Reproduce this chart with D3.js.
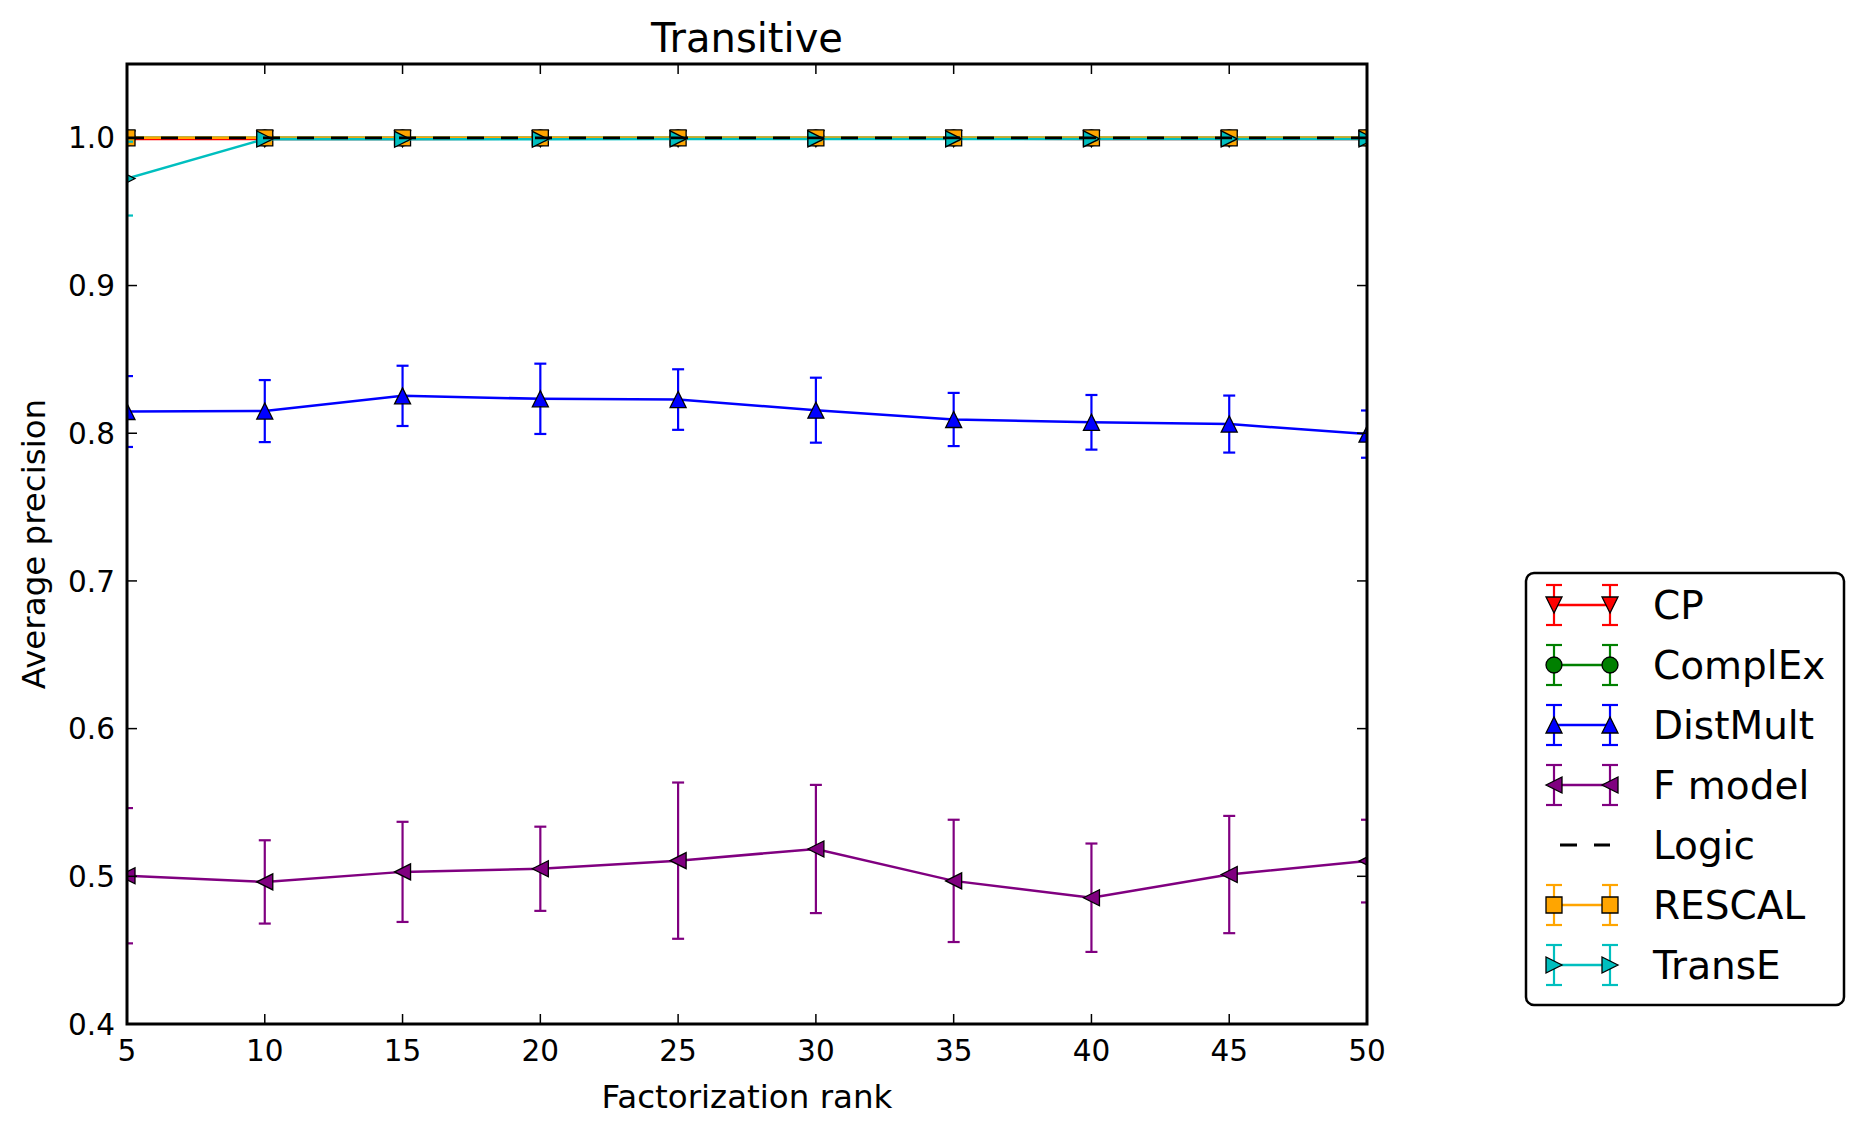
<!DOCTYPE html>
<html>
<head>
<meta charset="utf-8">
<script src="https://cdn.jsdelivr.net/npm/d3@7"></script>
<style>
  body { margin: 0; background: #fff; }
  text { font-family: 'DejaVu Sans', sans-serif; fill: #000; }
</style>
</head>
<body>
<div id="chart"></div>
<script>
let ranks = [5, 10, 15, 20, 25, 30, 35, 40, 45, 50]

let cpMean = [0.9993, 0.9993, 0.9993, 0.9994, 0.9994, 0.9994, 0.9994, 0.9993, 0.9993, 0.9993]
let cpStd = [0.001, 0.001, 0.001, 0.001, 0.001, 0.001, 0.001, 0.001, 0.001, 0.001]

let complexMean = [1.0, 1.0, 1.0, 1.0, 1.0, 1.0, 1.0, 1.0, 1.0, 1.0]
let complexStd = [0, 0, 0, 0, 0, 0, 0, 0, 0, 0]

let distMultMean = [0.8147, 0.815, 0.8253, 0.8233, 0.8228, 0.8156, 0.8093, 0.8074, 0.8062, 0.7994]
let distMultStd = [0.024, 0.021, 0.0204, 0.0238, 0.0205, 0.022, 0.018, 0.0185, 0.0193, 0.016]

let fModelMean = [0.5004, 0.4962, 0.503, 0.5051, 0.5106, 0.5185, 0.4969, 0.4855, 0.5012, 0.5103]
let fModelStd = [0.0458, 0.0282, 0.0339, 0.0285, 0.0529, 0.0434, 0.0414, 0.0367, 0.0397, 0.028]

let logicMean = [1.0, 1.0, 1.0, 1.0, 1.0, 1.0, 1.0, 1.0, 1.0, 1.0]

let rescalMean = [1.0, 1.0, 1.0, 1.0, 1.0, 1.0, 1.0, 1.0, 1.0, 1.0]
let rescalStd = [0.0005, 0.0005, 0.0005, 0.0005, 0.0005, 0.0005, 0.0005, 0.0005, 0.0005, 0.0005]

let transEMean = [0.9724, 0.9992, 0.999, 0.999, 0.9993, 0.9993, 0.9993, 0.9993, 0.9993, 0.9993]
let transEStd = [0.025, 0.001, 0.001, 0.001, 0.001, 0.001, 0.001, 0.001, 0.001, 0.001]

let xTicks = [5, 10, 15, 20, 25, 30, 35, 40, 45, 50]
let yTicks = [0.4, 0.5, 0.6, 0.7, 0.8, 0.9, 1.0]

let series = [
  { name: 'CP', mean: cpMean, std: cpStd, color: '#ff0000', marker: 'down' },
  { name: 'ComplEx', mean: complexMean, std: complexStd, color: '#008000', marker: 'circle' },
  { name: 'DistMult', mean: distMultMean, std: distMultStd, color: '#0000ff', marker: 'up' },
  { name: 'F model', mean: fModelMean, std: fModelStd, color: '#800080', marker: 'left' },
  { name: 'RESCAL', mean: rescalMean, std: rescalStd, color: '#ffa500', marker: 'square' },
  { name: 'TransE', mean: transEMean, std: transEStd, color: '#00bfbf', marker: 'right' }
]

let legendItems = ['CP', 'ComplEx', 'DistMult', 'F model', 'Logic', 'RESCAL', 'TransE']

let margin = { top: 64, left: 127, right: 496, bottom: 111 }
let totalWidth = 1863
let totalHeight = 1135
let width = totalWidth - margin.left - margin.right
let height = totalHeight - margin.top - margin.bottom

let markerSize = 16

function markerPath(type, s) {
  let h = s / 2
  if (type === 'up') return `M0,${-h}L${-h},${h}L${h},${h}Z`
  if (type === 'down') return `M0,${h}L${-h},${-h}L${h},${-h}Z`
  if (type === 'left') return `M${-h},0L${h},${-h}L${h},${h}Z`
  if (type === 'right') return `M${h},0L${-h},${-h}L${-h},${h}Z`
  if (type === 'square') return `M${-h},${-h}H${h}V${h}H${-h}Z`
  return d3.symbol().type(d3.symbolCircle).size(Math.PI * h * h)()
}

let svg = d3
  .select('#chart')
  .append('svg')
  .attr('width', totalWidth)
  .attr('height', totalHeight)

let holder = svg
  .append('g')
  .attr('transform', `translate(${margin.left},${margin.top})`)

let xScale = d3.scaleLinear().domain([5, 50]).range([0, width])
let yScale = d3.scaleLinear().domain([0.4, 1.05]).range([height, 0])

holder
  .append('clipPath')
  .attr('id', 'plot-clip')
  .append('rect')
  .attr('width', width)
  .attr('height', height)

let plot = holder.append('g').attr('clip-path', 'url(#plot-clip)')

let line = d3
  .line()
  .x(d => xScale(d.rank))
  .y(d => yScale(d.value))

series.forEach(s => {
  let points = ranks.map((r, i) => ({ rank: r, value: s.mean[i], std: s.std[i] }))
  let g = plot.append('g')

  let bars = g
    .selectAll('.err')
    .data(points)
    .enter()
    .append('g')
    .attr('stroke', s.color)
    .attr('stroke-width', 2.2)

  bars
    .append('line')
    .attr('x1', d => xScale(d.rank))
    .attr('x2', d => xScale(d.rank))
    .attr('y1', d => yScale(d.value - d.std))
    .attr('y2', d => yScale(d.value + d.std))

  bars
    .append('line')
    .attr('x1', d => xScale(d.rank) - 6)
    .attr('x2', d => xScale(d.rank) + 6)
    .attr('y1', d => yScale(d.value - d.std))
    .attr('y2', d => yScale(d.value - d.std))

  bars
    .append('line')
    .attr('x1', d => xScale(d.rank) - 6)
    .attr('x2', d => xScale(d.rank) + 6)
    .attr('y1', d => yScale(d.value + d.std))
    .attr('y2', d => yScale(d.value + d.std))

  g.append('path')
    .datum(points)
    .attr('d', line)
    .attr('fill', 'none')
    .attr('stroke', s.color)
    .attr('stroke-width', 2.5)

  g.selectAll('.marker')
    .data(points)
    .enter()
    .append('path')
    .attr('d', markerPath(s.marker, markerSize))
    .attr('transform', d => `translate(${xScale(d.rank)},${yScale(d.value)})`)
    .attr('fill', s.color)
    .attr('stroke', '#000')
    .attr('stroke-width', 1.3)
})

plot
  .append('path')
  .datum(ranks.map((r, i) => ({ rank: r, value: logicMean[i] })))
  .attr('d', line)
  .attr('fill', 'none')
  .attr('stroke', '#000')
  .attr('stroke-width', 2.8)
  .attr('stroke-dasharray', '17,17')

// ticks on all four sides, pointing in
let tickLen = 10

holder
  .selectAll('.x-tick')
  .data(xTicks)
  .enter()
  .append('g')
  .each(function(d) {
    let g = d3.select(this)
    g.append('line')
      .attr('x1', xScale(d)).attr('x2', xScale(d))
      .attr('y1', height).attr('y2', height - tickLen)
      .attr('stroke', '#000').attr('stroke-width', 1.5)
    g.append('line')
      .attr('x1', xScale(d)).attr('x2', xScale(d))
      .attr('y1', 0).attr('y2', tickLen)
      .attr('stroke', '#000').attr('stroke-width', 1.5)
    g.append('text')
      .attr('x', xScale(d))
      .attr('y', height + 37)
      .attr('text-anchor', 'middle')
      .attr('font-size', 29.5)
      .text(d)
  })

holder
  .selectAll('.y-tick')
  .data(yTicks)
  .enter()
  .append('g')
  .each(function(d) {
    let g = d3.select(this)
    g.append('line')
      .attr('x1', 0).attr('x2', tickLen)
      .attr('y1', yScale(d)).attr('y2', yScale(d))
      .attr('stroke', '#000').attr('stroke-width', 1.5)
    g.append('line')
      .attr('x1', width).attr('x2', width - tickLen)
      .attr('y1', yScale(d)).attr('y2', yScale(d))
      .attr('stroke', '#000').attr('stroke-width', 1.5)
    g.append('text')
      .attr('x', -12)
      .attr('y', yScale(d))
      .attr('dy', '0.36em')
      .attr('text-anchor', 'end')
      .attr('font-size', 29.5)
      .text(d3.format('.1f')(d))
  })

holder
  .append('rect')
  .attr('width', width)
  .attr('height', height)
  .attr('fill', 'none')
  .attr('stroke', '#000')
  .attr('stroke-width', 3)

holder
  .append('text')
  .attr('x', width / 2)
  .attr('y', -12)
  .attr('text-anchor', 'middle')
  .attr('font-size', 40)
  .text('Transitive')

holder
  .append('text')
  .attr('x', width / 2)
  .attr('y', height + 84)
  .attr('text-anchor', 'middle')
  .attr('font-size', 32.5)
  .text('Factorization rank')

holder
  .append('text')
  .attr('transform', `translate(${45 - margin.left},${height / 2}) rotate(-90)`)
  .attr('text-anchor', 'middle')
  .attr('font-size', 32.5)
  .text('Average precision')

// legend
let legend = svg.append('g').attr('transform', 'translate(1526,573)')

legend
  .append('rect')
  .attr('width', 318)
  .attr('height', 432)
  .attr('rx', 8)
  .attr('fill', '#fff')
  .attr('stroke', '#000')
  .attr('stroke-width', 2.5)

legend
  .selectAll('.legend-row')
  .data(legendItems)
  .enter()
  .append('g')
  .attr('transform', (d, i) => `translate(0,${32 + i * 60})`)
  .each(function(d) {
    let g = d3.select(this)
    let s = series.find(e => e.name === d)
    let ends = [28, 84]

    if (s) {
      ends.forEach(x => {
        g.append('line')
          .attr('x1', x).attr('x2', x).attr('y1', -20).attr('y2', 20)
          .attr('stroke', s.color).attr('stroke-width', 2.2)
        g.append('line')
          .attr('x1', x - 8).attr('x2', x + 8).attr('y1', -20).attr('y2', -20)
          .attr('stroke', s.color).attr('stroke-width', 2.2)
        g.append('line')
          .attr('x1', x - 8).attr('x2', x + 8).attr('y1', 20).attr('y2', 20)
          .attr('stroke', s.color).attr('stroke-width', 2.2)
      })
      g.append('line')
        .attr('x1', ends[0]).attr('x2', ends[1])
        .attr('stroke', s.color).attr('stroke-width', 2.5)
      ends.forEach(x => {
        g.append('path')
          .attr('d', markerPath(s.marker, markerSize))
          .attr('transform', `translate(${x},0)`)
          .attr('fill', s.color)
          .attr('stroke', '#000')
          .attr('stroke-width', 1.3)
      })
    } else {
      g.append('line')
        .attr('x1', ends[0] + 6).attr('x2', ends[1])
        .attr('stroke', '#000').attr('stroke-width', 2.8)
        .attr('stroke-dasharray', '17,17')
    }

    g.append('text')
      .attr('x', 127)
      .attr('dy', '0.36em')
      .attr('font-size', 39)
      .text(d)
  })
</script>
</body>
</html>
